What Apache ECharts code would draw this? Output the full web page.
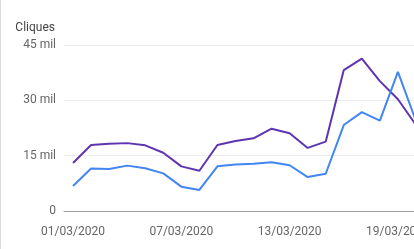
<!DOCTYPE html>
<html><head><meta charset="utf-8">
<script src="https://cdn.jsdelivr.net/npm/echarts@6/dist/echarts.min.js"></script>
<style>html,body{margin:0;padding:0;background:#fff;overflow:hidden;width:414px;height:249px;}#c{width:440px;height:249px;}</style>
</head><body><div id="c"></div>
<script>
var categories = ['01/03/2020','02/03/2020','03/03/2020','04/03/2020','05/03/2020','06/03/2020','07/03/2020','08/03/2020','09/03/2020','10/03/2020','11/03/2020','12/03/2020','13/03/2020','14/03/2020','15/03/2020','16/03/2020','17/03/2020','18/03/2020','19/03/2020','20/03/2020'];
var purpleSeries = [13000,17900,18200,18400,17800,15800,12100,10900,17900,19000,19700,22300,21100,17100,18800,38200,41300,35200,30300,23300];
var blueSeries = [6800,11500,11400,12300,11600,10200,6600,5700,12100,12600,12800,13200,12400,9200,10100,23300,26800,24500,37700,24400];
var yTicks = [0,15000,30000,45000];
var yTickLabels = {0:'0',15000:'15 mil',30000:'30 mil',45000:'45 mil'};

var chart = echarts.init(document.getElementById('c'), null, {renderer:'canvas'});
chart.setOption({
  animation:false,
  graphic:[{type:'line',shape:{x1:0.5,y1:0,x2:0.5,y2:249},style:{stroke:'#dadada',lineWidth:1}}],
  grid:{left:64,right:15,top:45,bottom:38,outerBoundsMode:'none'},
  xAxis:{type:'category',data:categories,boundaryGap:true,
    axisLine:{lineStyle:{color:'#9e9e9e',width:1}},axisTick:{show:false},
    axisLabel:{interval:5,color:'#666',fontFamily:'Roboto',fontSize:12,margin:15}},
  yAxis:{type:'value',min:0,max:45000,interval:15000,name:'Cliques',
    nameLocation:'end',nameGap:11,nameTextStyle:{color:'#444',fontFamily:'Roboto',fontSize:12,align:'right',padding:[0,9,0,0]},
    axisLine:{show:false},axisTick:{show:false},
    axisLabel:{color:'#666',fontFamily:'Roboto',fontSize:12,margin:8,formatter:function(v){return yTickLabels[v]!==undefined?yTickLabels[v]:'';}},
    splitLine:{lineStyle:{color:'#ebebeb'}}},
  series:[
    {type:'line',data:purpleSeries,showSymbol:false,lineStyle:{color:'#5e35b1',width:2},itemStyle:{color:'#5e35b1'}},
    {type:'line',data:blueSeries,showSymbol:false,lineStyle:{color:'#4285f4',width:2},itemStyle:{color:'#4285f4'}}
  ]
});
</script></body></html>
